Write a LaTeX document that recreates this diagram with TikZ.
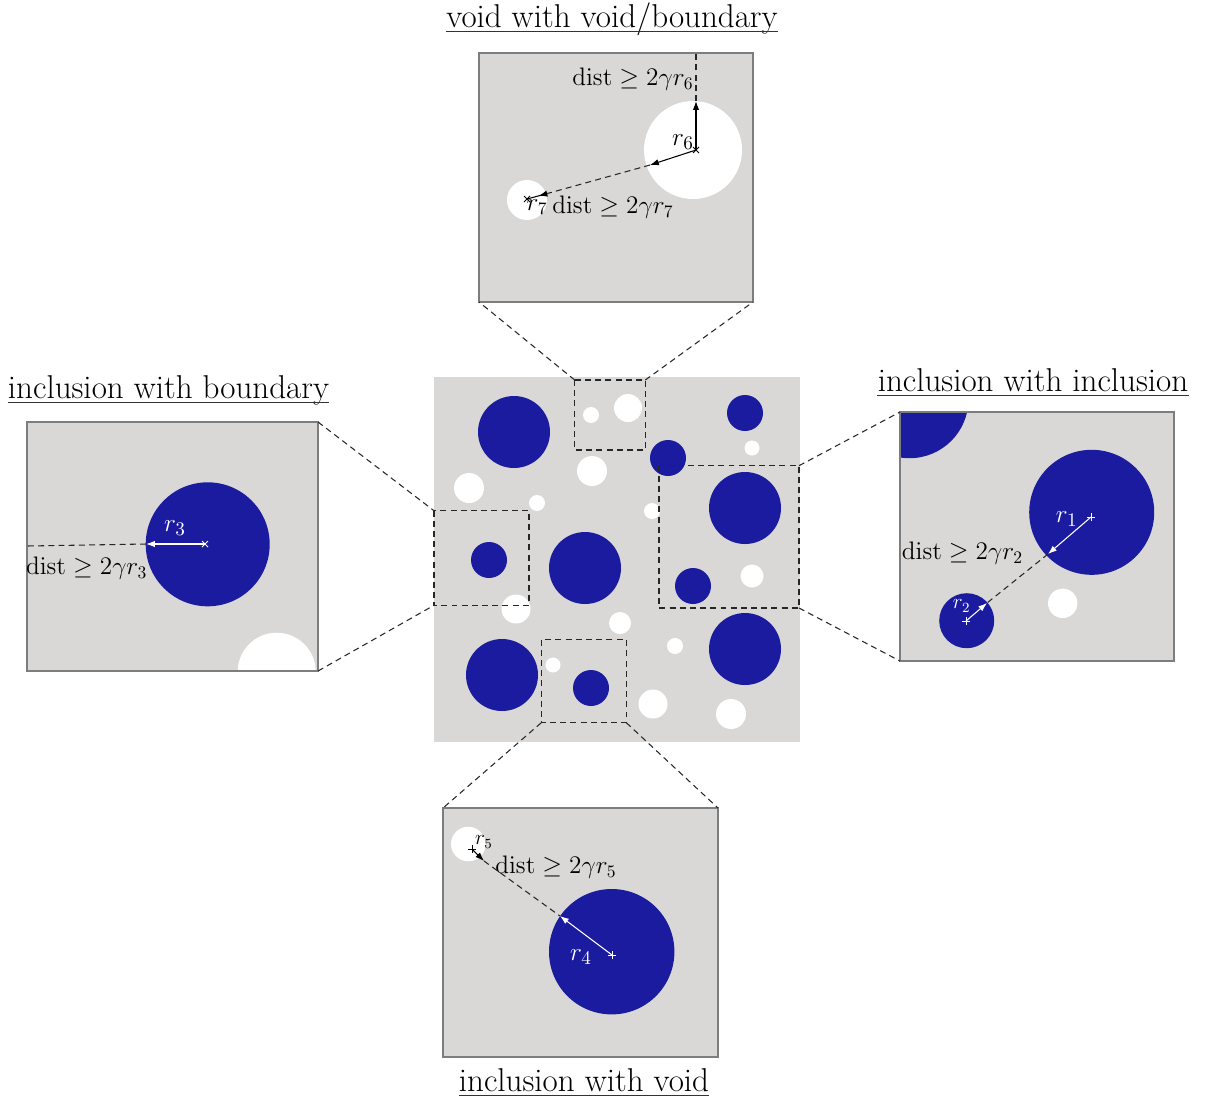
\documentclass[tikz,border=0pt]{standalone}
\usetikzlibrary{arrows.meta,calc}
\definecolor{matgray}{RGB}{217,216,215}
\definecolor{incblue}{RGB}{27,27,160}
\definecolor{boxline}{RGB}{125,125,125}
\tikzset{
  zoomline/.style={draw=black!85, dash pattern=on 3.4pt off 2.4pt, line width=0.6pt},
  distline/.style={draw=black!85, dash pattern=on 3.4pt off 2.4pt, line width=0.6pt},
  winbox/.style={draw=boxline, line width=0.7pt},
  barr/.style={-{Latex[length=5pt,width=3.6pt]}, line width=0.6pt, black},
  warr/.style={-{Latex[length=5pt,width=3.6pt]}, line width=0.6pt, white},
  lab/.style={font=\fontsize{14}{16}\selectfont, inner sep=0pt, text=black},
  rlab/.style={font=\fontsize{15.5}{17}\selectfont, inner sep=0pt},
  rsmall/.style={font=\fontsize{11.5}{13}\selectfont, inner sep=0pt},
  title/.style={font=\fontsize{18.8}{22}\selectfont, inner sep=0pt, text=black, anchor=base},
  uline/.style={line width=0.8pt, black!80},
  xmark/.pic={\draw[pic actions] (-3,-3) -- (3,3) (-3,3) -- (3,-3);},
  pmark/.pic={\draw[pic actions] (-4,0) -- (4,0) (0,-4) -- (0,4);}
}
\begin{document}
\begin{tikzpicture}[x=0.02cm,y=-0.02cm]
\useasboundingbox (0,0) rectangle (1212,1106);

% ---------------- central sample ----------------
\fill[matgray] (434,377) rectangle (800,742);
\foreach \x/\y/\r in {514/432/36, 745/413/18, 668/458/18, 745/508/36, 489/560/18,
  585/568/36, 693/586/18, 502/675/36, 591/688/18, 745/649/36}
  \fill[incblue] (\x,\y) circle[radius=\r];
\foreach \x/\y/\r in {591/415/8, 628/408/14, 752/448/7.5, 592/471/15, 469/488/15,
  537/503/8, 652/511/8, 752/576/11.5, 516/609/14.5, 620/623/11, 675/646/8,
  553/665/7.5, 653/704/14.5, 731/714/15}
  \fill[white] (\x,\y) circle[radius=\r];

% dashed windows in the sample
\coordinate (tA) at (574.7,380); \coordinate (tB) at (645.3,450);
\coordinate (lA) at (434,510.7); \coordinate (lB) at (529,605.3);
\coordinate (rA) at (659,465.7); \coordinate (rB) at (799,608);
\coordinate (bA) at (541.3,639.7); \coordinate (bB) at (626.3,722.7);
\draw[zoomline] (tA) rectangle (tB);
\draw[zoomline] (lA) rectangle (lB);
\draw[zoomline] (rA) rectangle (rB);
\draw[zoomline] (bA) rectangle (bB);

% ---------------- top window: void with void/boundary ----------------
\coordinate (T1) at (479,53); \coordinate (T2) at (753,302);
\begin{scope}
  \clip (T1) rectangle (T2);
  \fill[matgray] (T1) rectangle (T2);
  \fill[white] (693,150) circle[radius=49];
  \fill[white] (527,200) circle[radius=20];
\end{scope}
\draw[winbox] (T1) rectangle (T2);
\coordinate (c6) at (696,150);
\coordinate (u6) at (696,101);
\coordinate (top6) at (696,53);
\coordinate (e6) at (650,165);
\coordinate (c7) at (527,199);
\coordinate (e7) at (546.3,193.8);
\coordinate (t7) at (538.6,195.9);
\draw[barr] (c6) -- (u6);
\draw[distline] (u6) -- (top6);
\draw[barr] (c6) -- (e6);
\draw[distline] (e6) -- (e7);
\draw[line width=0.6pt] (c7) -- (e7);
\draw[barr] (e7) -- (t7);
\pic[draw=black, line width=0.5pt] at (c6) {xmark};
\pic[draw=black, line width=0.5pt] at (c7) {xmark};
\node[lab] (d6) at (633,79) {$\mathrm{dist} \geq 2\gamma r_6$};
\node[rlab] (r6) at (683,142) {$r_6$};
\node[lab] (r7) at (537,207) {$r_7$};
\node[lab] (d7) at (613,207) {$\mathrm{dist} \geq 2\gamma r_7$};
\node[title] (ttop) at (612,27) {void with void/boundary};
\draw[uline] ([yshift=-2.4pt]ttop.base west) -- ([yshift=-2.4pt]ttop.base east);
\draw[zoomline] (tA) -- (T1 |- T2);
\draw[zoomline] (tB |- tA) -- (T2);

% ---------------- left window: inclusion with boundary ----------------
\coordinate (L1) at (27,422); \coordinate (L2) at (318,671);
\begin{scope}
  \clip (L1) rectangle (L2);
  \fill[matgray] (L1) rectangle (L2);
  \fill[incblue] (207.7,544.3) circle[radius=62];
  \fill[white] (276.7,671.7) circle[radius=39];
\end{scope}
\draw[winbox] (L1) rectangle (L2);
\coordinate (c3) at (205,544);
\coordinate (e3) at (146,544);
\coordinate (w3) at (27,546);
\draw[warr] (c3) -- (e3);
\draw[distline] (e3) -- (w3);
\pic[draw=white, line width=0.5pt] at (c3) {xmark};
\node[rlab, text=white] (r3) at (175,528) {$r_3$};
\node[lab] (d3) at (86.7,568) {$\mathrm{dist} \geq 2\gamma r_3$};
\node[title] (tleft) at (168.5,398) {inclusion with boundary};
\draw[uline] ([yshift=-2.4pt]tleft.base west) -- ([yshift=-2.4pt]tleft.base east);
\draw[zoomline] (L2 |- L1) -- (lA);
\draw[zoomline] (L2) -- (lA |- lB);

% ---------------- right window: inclusion with inclusion ----------------
\coordinate (R1) at (900,412); \coordinate (R2) at (1174,661);
\begin{scope}
  \clip (R1) rectangle (R2);
  \fill[matgray] (R1) rectangle (R2);
  \fill[incblue] (909.5,399.2) circle[radius=59];
  \fill[incblue] (1091.7,512.3) circle[radius=62.5];
  \fill[incblue] (966.7,620.7) circle[radius=27.5];
  \fill[white] (1062.7,603.3) circle[radius=14.7];
\end{scope}
\draw[winbox] (R1) rectangle (R2);
\coordinate (c1) at (1091,517);
\coordinate (e1) at (1048,554);
\coordinate (c2) at (966,621);
\coordinate (e2) at (987,603);
\draw[warr] (c1) -- (e1);
\draw[distline] (e1) -- (e2);
\draw[warr] (c2) -- (e2);
\pic[draw=white, line width=0.5pt] at (c1) {pmark};
\pic[draw=white, line width=0.5pt] at (c2) {pmark};
\node[rlab, text=white] (r1) at (1066.7,519) {$r_1$};
\node[rsmall, text=white] (r2) at (961.7,606) {$r_2$};
\node[lab] (d2) at (962.5,553) {$\mathrm{dist} \geq 2\gamma r_2$};
\node[title] (tright) at (1033,391) {inclusion with inclusion};
\draw[uline] ([yshift=-2.4pt]tright.base west) -- ([yshift=-2.4pt]tright.base east);
\draw[zoomline] (rB |- rA) -- (R1);
\draw[zoomline] (rB) -- (R1 |- R2);

% ---------------- bottom window: inclusion with void ----------------
\coordinate (B1) at (443,808); \coordinate (B2) at (718,1057);
\begin{scope}
  \clip (B1) rectangle (B2);
  \fill[matgray] (B1) rectangle (B2);
  \fill[incblue] (611.7,951.7) circle[radius=62.7];
  \fill[white] (468.3,844) circle[radius=17.3];
\end{scope}
\draw[winbox] (B1) rectangle (B2);
\coordinate (c5) at (472,849);
\coordinate (e5) at (484,861);
\coordinate (c4) at (612,955);
\coordinate (e4) at (560,916);
\draw[barr] (c5) -- (e5);
\draw[distline] (e5) -- (e4);
\draw[warr] (c4) -- (e4);
\pic[draw=black, line width=0.5pt] at (c5) {pmark};
\pic[draw=white, line width=0.5pt] at (c4) {pmark};
\node[rsmall] (r5) at (484,842) {$r_5$};
\node[lab] (d5) at (556,867) {$\mathrm{dist} \geq 2\gamma r_5$};
\node[rlab, text=white] (r4) at (581,957) {$r_4$};
\node[title] (tbottom) at (584,1091) {inclusion with void};
\draw[uline] ([yshift=-2.4pt]tbottom.base west) -- ([yshift=-2.4pt]tbottom.base east);
\draw[zoomline] (bA |- bB) -- (B1);
\draw[zoomline] (bB) -- (B2 |- B1);
\end{tikzpicture}
\end{document}
